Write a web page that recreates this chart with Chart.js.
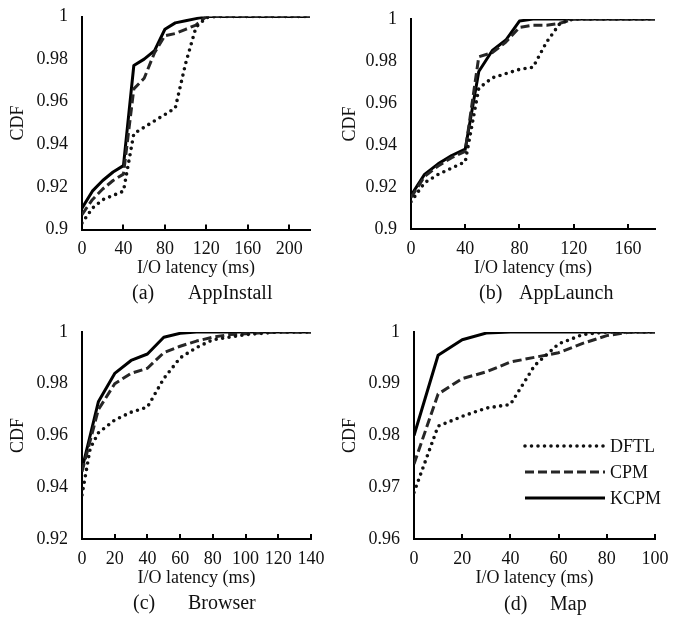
<!DOCTYPE html>
<html>
<head>
<meta charset="utf-8">
<script src="https://cdn.jsdelivr.net/npm/chart.js@4.4.0/dist/chart.umd.min.js"></script>
<style>
  body { margin: 0; background: #fff; }
  #page { position: relative; width: 694px; height: 623px; overflow: hidden; font-family: 'Liberation Serif', 'Times New Roman', serif; color: #111; }
  canvas { position: absolute; }
  .cap { position: absolute; font-size: 20px; line-height: 22px; white-space: nowrap; }
  .leg { position: absolute; font-size: 18px; line-height: 20px; white-space: nowrap; }
</style>
</head>
<body>
<div id="page">
  <canvas id="cA" style="left:0;top:0"></canvas>
  <canvas id="cB" style="left:338px;top:0"></canvas>
  <canvas id="cC" style="left:0;top:310px"></canvas>
  <canvas id="cD" style="left:338px;top:310px"></canvas>

  <div class="cap" style="left:132px;top:281px">(a)</div>
  <div class="cap" style="left:188px;top:281px">AppInstall</div>
  <div class="cap" style="left:479px;top:281px">(b)</div>
  <div class="cap" style="left:519px;top:281px">AppLaunch</div>
  <div class="cap" style="left:133px;top:591px">(c)</div>
  <div class="cap" style="left:188px;top:591px">Browser</div>
  <div class="cap" style="left:504px;top:592px">(d)</div>
  <div class="cap" style="left:550px;top:592px">Map</div>

  <div id="legend"></div>
</div>
<script>
// series names (legend order)
var seriesNames = ['DFTL', 'CPM', 'KCPM'];

// (a) AppInstall
var latA = [0, 10, 20, 30, 40, 50, 60, 70, 80, 90, 100, 110, 120, 130, 220];
var dftlA = [0.903, 0.910, 0.914, 0.916, 0.918, 0.945, 0.948, 0.951, 0.954, 0.957, 0.978, 0.995, 0.9995, 1, 1];
var cpmA  = [0.907, 0.914, 0.919, 0.923, 0.926, 0.966, 0.971, 0.983, 0.991, 0.992, 0.994, 0.996, 1, 1, 1];
var kcpmA = [0.910, 0.918, 0.923, 0.927, 0.930, 0.977, 0.980, 0.984, 0.994, 0.997, 0.998, 0.999, 1, 1, 1];

// (b) AppLaunch
var latB = [0, 10, 20, 30, 40, 50, 60, 70, 80, 90, 100, 110, 120, 130, 180];
var dftlB = [0.913, 0.922, 0.926, 0.929, 0.932, 0.967, 0.972, 0.974, 0.976, 0.977, 0.989, 0.998, 1, 1, 1];
var cpmB  = [0.915, 0.925, 0.930, 0.934, 0.937, 0.982, 0.984, 0.989, 0.996, 0.997, 0.997, 0.998, 1, 1, 1];
var kcpmB = [0.916, 0.926, 0.931, 0.935, 0.938, 0.975, 0.985, 0.990, 0.999, 1, 1, 1, 1, 1, 1];

// (c) Browser
var latC = [0, 5, 10, 20, 30, 40, 50, 60, 70, 80, 90, 100, 110, 120, 130, 140];
var dftlC = [0.937, 0.955, 0.961, 0.966, 0.969, 0.971, 0.982, 0.990, 0.994, 0.997, 0.998, 0.999, 0.9995, 1, 1, 1];
var cpmC  = [0.946, 0.958, 0.970, 0.980, 0.984, 0.986, 0.992, 0.9945, 0.9965, 0.998, 0.999, 0.9993, 0.9997, 1, 1, 1];
var kcpmC = [0.947, 0.960, 0.973, 0.984, 0.989, 0.9915, 0.998, 0.9995, 1, 1, 1, 1, 1, 1, 1, 1];

// (d) Map
var latD = [0, 10, 20, 30, 40, 50, 60, 70, 80, 90, 100];
var dftlD = [0.969, 0.9818, 0.9837, 0.9853, 0.986, 0.9935, 0.9977, 0.9995, 1, 1, 1];
var cpmD  = [0.9745, 0.988, 0.991, 0.9923, 0.9942, 0.9951, 0.996, 0.9978, 0.9993, 1, 1];
var kcpmD = [0.980, 0.9955, 0.9985, 0.9998, 1, 1, 1, 1, 1, 1, 1];

var FONT = "'Liberation Serif', 'Times New Roman', serif";
var TXT = '#111';

// line looks: dotted, dashed, solid
var styles = [
  { color: '#111', width: 3.6, dash: [0, 6.5], cap: 'round' },
  { color: '#262626', width: 3, dash: [9, 4], cap: 'butt' },
  { color: '#000', width: 3, dash: [], cap: 'butt' }
];

// x-axis tick marks point inward, like the original
var insideTicks = {
  id: 'insideTicks',
  afterDraw: function(chart) {
    var xs = chart.scales.x, ctx = chart.ctx, b = chart.chartArea.bottom;
    ctx.save();
    ctx.strokeStyle = '#000';
    ctx.lineWidth = 2;
    xs.ticks.forEach(function(t) {
      var px = Math.round(xs.getPixelForValue(t.value));
      ctx.beginPath(); ctx.moveTo(px, b); ctx.lineTo(px, b - 5); ctx.stroke();
    });
    ctx.restore();
  }
};

function pts(xs, ys) {
  return xs.map(function(x, i) { return { x: x, y: ys[i] }; });
}

function makePanel(id, w, h, lat, series, xMax, xStep, yMin, yStep, box) {
  var cv = document.getElementById(id);
  cv.width = w; cv.height = h;
  cv.style.width = w + 'px'; cv.style.height = h + 'px';
  var ds = series.map(function(s, i) {
    var st = styles[i];
    return {
      label: seriesNames[i], data: pts(lat, s),
      borderColor: st.color, borderWidth: st.width, borderDash: st.dash,
      borderCapStyle: st.cap, borderJoinStyle: 'round',
      pointRadius: 0, tension: 0, fill: false
    };
  });
  return new Chart(cv, {
    type: 'line',
    data: { datasets: ds },
    plugins: [insideTicks],
    options: {
      responsive: false, animation: false, devicePixelRatio: 1,
      layout: { padding: { top: box.top, right: box.right, left: 0, bottom: 0 } },
      plugins: { legend: { display: false }, tooltip: { enabled: false } },
      scales: {
        x: {
          type: 'linear', min: 0, max: xMax,
          grid: { display: false, drawTicks: false },
          border: { display: true, color: '#000', width: 2 },
          ticks: {
            stepSize: xStep, includeBounds: false, padding: 9, color: TXT, font: { family: FONT, size: 18 },
            maxRotation: 0, minRotation: 0, autoSkip: false
          },
          title: { display: true, text: 'I/O latency (ms)', color: TXT, font: { family: FONT, size: 18 }, padding: { top: 0, bottom: 3 } },
          afterFit: function(s) { s.height = box.xh; s.paddingLeft = 0; s.paddingRight = 0; }
        },
        y: {
          min: yMin, max: 1,
          grid: { display: false, drawTicks: false },
          border: { display: true, color: '#000', width: 2 },
          ticks: {
            stepSize: yStep, includeBounds: false, padding: 14, color: TXT, font: { family: FONT, size: 18 },
            callback: function(v) { return String(+v.toFixed(3)); }
          },
          title: { display: true, text: 'CDF', color: TXT, font: { family: FONT, size: 18 }, padding: { top: box.tp, bottom: 0 } },
          afterFit: function(s) { s.width = box.yw; s.paddingTop = 0; s.paddingBottom = 0; }
        }
      }
    }
  });
}

makePanel('cA', 340, 282, latA, [dftlA, cpmA, kcpmA], 220, 40, 0.9, 0.02, { top: 16.5, right: 30, xh: 52.5, yw: 82, tp: 7 });
makePanel('cB', 356, 282, latB, [dftlB, cpmB, kcpmB], 180, 40, 0.9, 0.02, { top: 19, right: 39, xh: 53, yw: 73, tp: 1 });
makePanel('cC', 340, 282, latC, [dftlC, cpmC, kcpmC], 140, 20, 0.92, 0.02, { top: 22, right: 29, xh: 53, yw: 82, tp: 7 });
makePanel('cD', 356, 282, latD, [dftlD, cpmD, kcpmD], 100, 20, 0.96, 0.01, { top: 22, right: 39, xh: 53, yw: 76, tp: 1 });

// legend inside panel (d)
var leg = document.getElementById('legend');
var svg = '<svg style="position:absolute;left:520px;top:430px" width="90" height="80">';
seriesNames.forEach(function(n, i) {
  var st = styles[i], y = 16 + i * 26;
  svg += '<line x1="5" y1="' + y + '" x2="85" y2="' + y + '" stroke="' + st.color + '" stroke-width="' + st.width +
    '" stroke-linecap="' + st.cap + '"' + (st.dash.length ? ' stroke-dasharray="' + st.dash.join(' ') + '"' : '') + '/>';
  leg.innerHTML += '<div class="leg" style="left:610px;top:' + (430 + y - 10) + 'px">' + n + '</div>';
});
svg += '</svg>';
leg.innerHTML += svg;
</script>
</body>
</html>
